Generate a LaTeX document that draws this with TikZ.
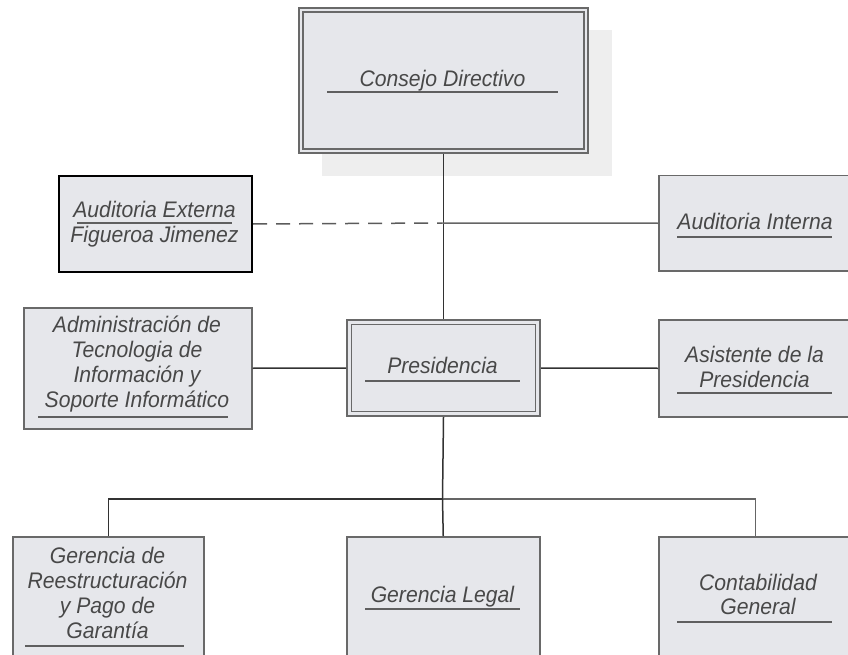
\documentclass[tikz,border=0pt]{standalone}
\usepackage{fontspec}
\setmainfont{Liberation Sans}[FakeStretch=0.94]
\definecolor{boxfill}{RGB}{230,231,235}
\definecolor{boxline}{RGB}{105,105,105}
\definecolor{txtgray}{RGB}{72,72,72}
\definecolor{ulcol}{RGB}{95,95,95}
\definecolor{conncol}{RGB}{50,50,50}
\definecolor{shadowcol}{RGB}{238,238,238}
\tikzset{
  box/.style={rectangle, draw=boxline, line width=1.5pt, fill=boxfill, inner sep=0pt, anchor=north west},
  innerbox/.style={rectangle, draw=boxline, line width=1.5pt, inner sep=0pt},
  txt/.style={anchor=base, text=txtgray, font=\fontsize{22.5}{24}\selectfont\itshape, inner sep=0pt},
  uline/.style={draw=ulcol, line width=1.6pt},
  conn/.style={draw=conncol, line width=1.5pt},
  dconn/.style={draw=conncol!80, line width=1.5pt, dash pattern=on 14pt off 9pt},
}
\begin{document}
\begin{tikzpicture}[x=1pt,y=-1pt]
\useasboundingbox (0,0) rectangle (848,655);
% shadow of Consejo Directivo
\node[rectangle, fill=shadowcol, inner sep=0pt, anchor=north west, minimum width=290pt, minimum height=146pt] (cdsh) at (322,30) {};
% boxes
\node[box, line width=2pt, minimum width=289pt, minimum height=145pt] (cd) at (298,7) {};
\node[innerbox, minimum width=281pt, minimum height=137pt] (cdi) at (cd.center) {};
\node[box, draw=black, line width=2pt, minimum width=193pt, minimum height=96pt] (ae) at (58,175) {};
\node[box, minimum width=193pt, minimum height=95pt] (ai) at (658,175) {};
\node[box, minimum width=228pt, minimum height=121pt] (at) at (23,307) {};
\node[box, line width=2pt, minimum width=193pt, minimum height=96pt] (pr) at (346,319) {};
\node[innerbox, minimum width=184pt, minimum height=87pt] (pri) at (pr.center) {};
\node[box, minimum width=193pt, minimum height=97pt] (as) at (658,319) {};
\node[box, minimum width=191pt, minimum height=124pt] (gr) at (12,536) {};
\node[box, minimum width=193pt, minimum height=124pt] (gl) at (346,536) {};
\node[box, minimum width=193pt, minimum height=124pt] (gc) at (658,536) {};
% connectors
\coordinate (j1) at (442.5,223);
\coordinate (bus) at (442.5,499);
\draw[conn] (cd.south) -- (pr.north);
\draw[dconn] (ae.east) -- (j1);
\draw[conn, draw=conncol!75] (j1) -- (ai.west);
\draw[conn] (at.east) -- (pr.west);
\draw[conn] (pr.east) -- (as.west);
\draw[conn] (pr.south) -- (bus);
\draw[conn] (gr.north) -- (gr.north |- bus) -- (bus);
\draw[conn, draw=conncol!75] (bus) -- (gc.north |- bus) -- (gc.north);
\draw[conn] (bus) -- (gl.north);
% texts
\node[txt] (tcd) at (442.5,87) {Consejo Directivo};
\draw[uline] (327,92) -- (558,92);
\node[txt] (tae1) at (154.5,217) {Auditoria Externa};
\draw[uline] (77,223) -- (232,223);
\node[txt] (tae2) at (154.5,242) {Figueroa Jimenez};
\node[txt] (tai) at (755,229) {Auditoria Interna};
\draw[uline] (677,237) -- (832,237);
\node[txt] (tat1) at (137,332) {Administración de};
\node[txt] (tat2) at (137,357) {Tecnologia de};
\node[txt] (tat3) at (137,382) {Información y};
\node[txt] (tat4) at (137,407) {Soporte Informático};
\draw[uline] (38,417) -- (228,417);
\node[txt] (tpr) at (442.5,373) {Presidencia};
\draw[uline] (365,381) -- (520,381);
\node[txt] (tas1) at (754.5,362) {Asistente de la};
\node[txt] (tas2) at (754.5,387) {Presidencia};
\draw[uline] (677,393) -- (832,393);
\node[txt] (tgr1) at (107.5,563) {Gerencia de};
\node[txt] (tgr2) at (107.5,588) {Reestructuración};
\node[txt] (tgr3) at (107.5,613) {y Pago de};
\node[txt] (tgr4) at (107.5,638) {Garantía};
\draw[uline] (25,646) -- (184,646);
\node[txt] (tgl) at (442.5,602) {Gerencia Legal};
\draw[uline] (365,609) -- (520,609);
\node[txt] (tgc1) at (758,590) {Contabilidad};
\node[txt] (tgc2) at (758,614) {General};
\draw[uline] (677,622) -- (832,622);
\end{tikzpicture}
\end{document}
